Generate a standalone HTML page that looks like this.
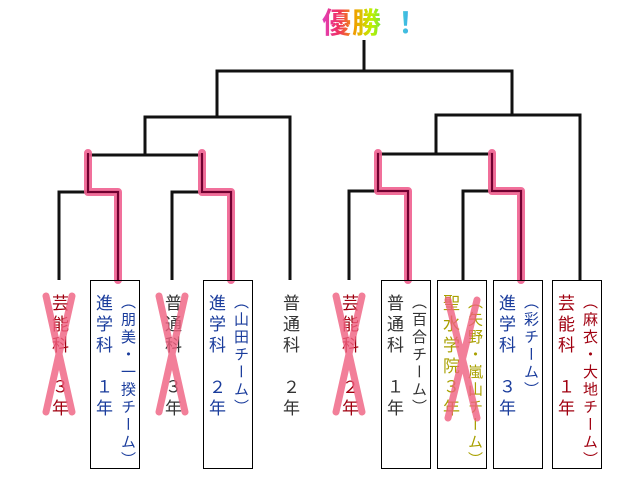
<!DOCTYPE html>
<html><head><meta charset="utf-8"><style>
body{margin:0;width:640px;height:480px;background:#fff;position:relative;overflow:hidden;font-family:"Liberation Sans","Noto Sans CJK JP",sans-serif}
.c{position:absolute;writing-mode:vertical-rl;font-size:17px;letter-spacing:4px;line-height:1;top:294px}
.s{position:absolute;writing-mode:vertical-rl;font-size:15px;letter-spacing:2.5px;line-height:1;top:294px}
.box{position:absolute;top:280px;height:189px;border:1px solid #000;box-sizing:border-box;width:50px}
.r{color:#a00010}.b{color:#1a3c9c}.g{color:#333}.o{color:#a8a000}
#t{position:absolute;left:322px;top:0px;font-size:29px;font-weight:bold;background:linear-gradient(90deg,#e040c0,#f03060,#f0a000,#c0f000,#40e060,#40c0e0,#4080f0);-webkit-background-clip:text;background-clip:text;color:transparent;letter-spacing:1px}
</style></head><body>
<div id="t">優勝 ！</div>
<svg width="640" height="480" style="position:absolute;left:0;top:0">
<g fill="none" stroke="#111" stroke-width="3">
<path d="M364 40V71M217 117V71H512V115"/>
<path d="M145 155V117H290V280M88 192V155H202V192"/>
<path d="M59 280V192H118V280M172 280V192H231V280"/>
<path d="M436 154V115H580V280M378 191V154H492V191"/>
<path d="M349 280V191H408V280M463 280V191H521V280"/>
</g>
<g fill="none" stroke="#f06090" stroke-width="8" stroke-linecap="round" stroke-linejoin="round" opacity="0.9">
<path d="M88 153V192H118V280"/><path d="M202 153V192H231V280"/>
<path d="M378 153V191H408V280"/><path d="M492 153V191H521V280"/>
</g>
<g fill="none" stroke="#700030" stroke-width="2">
<path d="M88 153V192H118V280"/><path d="M202 153V192H231V280"/>
<path d="M378 153V191H408V280"/><path d="M492 153V191H521V280"/>
</g>
</svg>
<div class="box" style="left:90px"></div>
<div class="box" style="left:203px"></div>
<div class="box" style="left:381px"></div>
<div class="box" style="left:437px"></div>
<div class="box" style="left:493px"></div>
<div class="box" style="left:552px"></div>

<div class="c r" style="left:50px">芸能科　３年</div>
<div class="c b" style="left:94px">進学科　１年</div>
<div class="s b" style="left:120px">（朋美・一揆チーム）</div>
<div class="c g" style="left:163px">普通科　３年</div>
<div class="c b" style="left:207px">進学科　２年</div>
<div class="s b" style="left:233px">（山田チーム）</div>
<div class="c g" style="left:281px">普通科　２年</div>
<div class="c r" style="left:340px">芸能科　２年</div>
<div class="c g" style="left:385px">普通科　１年</div>
<div class="s g" style="left:411px">（百合チーム）</div>
<div class="c o" style="left:441px">聖水学院３年</div>
<div class="s o" style="left:467px">（矢野・嵐山チーム）</div>
<div class="c b" style="left:497px">進学科　３年</div>
<div class="s b" style="left:523px">（彩チーム）</div>
<div class="c r" style="left:556px">芸能科　１年</div>
<div class="s r" style="left:582px">（麻衣・大地チーム）</div>

<svg width="640" height="480" style="position:absolute;left:0;top:0">
<g stroke="#f06080" stroke-width="7" opacity="0.8" stroke-linecap="round">
<path d="M46 296L72 412M72 296L46 412"/>
<path d="M159 296L185 412M185 296L159 412"/>
<path d="M336 296L362 412M362 296L336 412"/>
<path d="M448 300L477 418M477 300L448 418"/>
</g>
</svg>
</body></html>
